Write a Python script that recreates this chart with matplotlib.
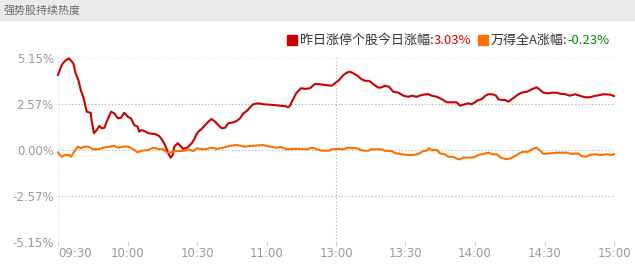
import matplotlib
matplotlib.use("Agg")
import matplotlib.pyplot as plt
from matplotlib.patches import Rectangle

plt.rcParams['font.family'] = ['Noto Sans CJK SC', 'DejaVu Sans']

# trading minutes since 09:30 (11:30 and 13:00 merge at 120)
red_t = [0, 1.6, 3.0, 4.7, 6.6, 7.6, 8.8, 9.9, 10.9, 11.7, 12.4, 14.1, 14.5, 15.5, 16.7,
         17.8, 18.9, 20.0, 21.0, 22.9, 24.3, 25.8, 27.2, 28.6, 30.1, 31.5, 32.9, 34.4, 35.0,
         36.1, 37.9, 39.0, 41.9, 43.6, 44.8, 46.2, 47.6, 48.6, 49.5, 50.2, 51.7, 53.1, 54.1,
         56.0, 57.7, 58.8, 59.6, 60.6, 62.0, 63.5, 64.9, 66.3, 67.8, 69.2, 70.7, 72.1, 73.5,
         75.7, 77.1, 78.6, 80.0, 81.5, 82.9, 84.3, 86.5, 88.6, 92.9, 95.8, 98.0, 99.2, 100.1,
         101.3, 103.0, 104.9, 106.6, 108.8, 110.9, 113.1, 115.2, 118.1, 119.6, 121.3, 123.2,
         124.6, 126.0, 127.5, 129.2, 131.1, 132.5, 134.4, 136.1, 138.3, 139.7, 141.1, 142.9,
         144.7, 146.9, 149.1, 151.2, 152.9, 154.8, 157.0, 159.8, 161.3, 163.5, 165.6, 167.8,
         169.9, 172.1, 173.5, 175.7, 177.1, 178.6, 180.0, 181.4, 182.9, 184.3, 185.7, 187.6,
         189.1, 190.1, 191.5, 193.0, 194.4, 195.8, 197.3, 198.7, 200.2, 202.3, 204.5, 206.6,
         208.1, 209.5, 211.6, 213.1, 215.3, 216.7, 218.8, 221.0, 223.2, 225.3, 227.5, 229.6,
         231.4, 233.2, 235.4, 238.3, 240]
red_v = [4.21, 4.77, 5.00, 5.15, 4.87, 4.31, 3.93, 3.33, 2.99, 2.53, 2.15, 2.09, 1.68, 0.94, 1.12,
         1.35, 1.22, 1.25, 1.59, 2.15, 2.06, 1.78, 1.81, 2.09, 1.87, 1.78, 1.40, 1.31, 1.03,
         1.12, 1.03, 0.94, 0.90, 0.79, 0.60, 0.28, -0.19, -0.43, -0.28, 0.19, 0.38, 0.19, 0.06,
         0.15, 0.38, 0.60, 0.84, 1.03, 1.18, 1.40, 1.59, 1.74, 1.59, 1.40, 1.22, 1.25, 1.50,
         1.56, 1.63, 1.78, 2.06, 2.19, 2.40, 2.57, 2.62, 2.57, 2.53, 2.49, 2.47, 2.40, 2.47,
         2.81, 3.22, 3.47, 3.43, 3.47, 3.71, 3.69, 3.65, 3.61, 3.75, 3.93, 4.21,
         4.34, 4.40, 4.31, 4.17, 3.97, 3.89, 3.88, 3.69, 3.50, 3.52, 3.61, 3.55,
         3.27, 3.22, 3.05, 2.99, 3.05, 2.99, 3.09, 3.14, 3.05, 2.99, 2.86, 2.68,
         2.68, 2.68, 2.49, 2.57, 2.62, 2.57, 2.68, 2.81, 2.85, 3.03, 3.13, 3.13,
         3.05, 2.85, 2.81, 2.81, 2.71, 2.85, 2.99, 3.13, 3.22, 3.27, 3.41, 3.52,
         3.37, 3.22, 3.18, 3.22, 3.22, 3.16, 3.14, 3.05, 3.13, 3.05, 2.96, 2.96,
         3.03, 3.07, 3.13, 3.11, 3.03]

orange_t = [0, 1.6, 3.0, 4.7, 5.6, 7.0, 8.5, 9.9, 11.4, 13.1, 15.2, 17.4, 20.3, 22.4, 23.9,
            26.0, 28.2, 30.3, 32.5, 34.4, 36.1, 39.0, 41.1, 43.3, 45.5, 46.9, 48.3, 50.5,
            52.7, 54.8, 56.2, 58.4, 59.9, 62.0, 64.2, 66.3, 68.5, 71.4, 74.2, 77.1, 80.7,
            84.3, 88.6, 91.5, 94.4, 96.1, 98.7, 101.6, 104.5, 107.4, 109.9, 111.7, 113.8,
            117.1, 118.1, 121.0, 123.2, 125.3, 128.9, 131.8, 133.9, 135.4, 139.7, 141.1,
            144.0, 145.8, 148.4, 151.2, 153.4, 155.5, 157.7, 159.1, 160.1, 161.3, 163.5,
            164.9, 167.0, 168.5, 170.6, 172.4, 173.5, 175.0, 177.1, 179.7, 181.4, 183.6,
            185.7, 187.6, 189.4, 191.1, 193.4, 195.4, 197.3, 199.1, 200.8, 203.0, 204.5,
            206.6, 208.1, 209.5, 212.4, 215.3, 219.6, 221.7, 224.6, 226.1, 227.9, 229.4,
            231.8, 234.7, 236.8, 239.0, 240]
orange_v = [-0.15, -0.38, -0.28, -0.28, -0.38, -0.10, 0.19, 0.10, 0.19, 0.19, 0.04, 0.04, 0.15, 0.19, 0.24,
            0.13, 0.19, 0.19, 0.04, -0.13, -0.04, 0.00, 0.13, 0.06, 0.04, -0.13, -0.15, -0.06,
            -0.06, -0.04, 0.04, -0.06, 0.10, 0.04, 0.06, 0.13, 0.06, 0.13, 0.24, 0.28, 0.19,
            0.24, 0.28, 0.19, 0.13, 0.17, 0.04, 0.06, 0.06, 0.04, 0.13, 0.04, -0.04,
            -0.04, 0.04, 0.06, 0.04, 0.13, 0.10, -0.04, -0.04, 0.04, 0.04, -0.04,
            -0.06, -0.19, -0.24, -0.28, -0.28, -0.22, -0.06, -0.04, 0.10, 0.00, 0.00,
            -0.19, -0.24, -0.38, -0.38, -0.51, -0.52, -0.41, -0.43, -0.41, -0.28, -0.22,
            -0.15, -0.24, -0.24, -0.43, -0.51, -0.47, -0.34, -0.19, -0.10, -0.10, 0.04,
            0.13, -0.04, -0.22, -0.19, -0.15, -0.15, -0.22, -0.19, -0.34, -0.38, -0.28,
            -0.24, -0.28, -0.24, -0.28, -0.23]

x_ticks = [0, 30, 60, 90, 120, 150, 180, 210, 240]
x_labels = ["09:30", "10:00", "10:30", "11:00", "13:00", "13:30", "14:00", "14:30", "15:00"]
y_ticks = [5.15, 2.57, 0.0, -2.57, -5.15]
y_labels = ["5.15%", "2.57%", "0.00%", "-2.57%", "-5.15%"]

W, H = 635, 267
fig = plt.figure(figsize=(W / 100, H / 100), dpi=100)

# title band
fig.patches.append(Rectangle((0, 1 - 20 / H), 1, 20 / H, transform=fig.transFigure,
                             color="#ebebeb", zorder=0))
fig.text(3 / W, 1 - 10.5 / H, "强势股持续热度", fontsize=7.9, color="#666666", va="center")

ax = fig.add_axes([58 / W, 1 - 241.7 / H, 556 / W, (241.7 - 58.3) / H])
ax.plot(red_t, red_v, color="#cc0000", lw=1.5, clip_on=False, zorder=3)
ax.plot(orange_t, orange_v, color="#ff7000", lw=1.5, clip_on=False, zorder=3)
ax.set_xlim(0, 240)
ax.set_ylim(-5.15, 5.15)
for s in ax.spines.values():
    s.set_visible(False)

dots = (0, (1, 2))
for y in [2.57, 0, -2.57]:
    ax.axhline(y, color="#aaaaaa", lw=0.8, ls=dots, zorder=1)
for y in [5.15, -5.15]:
    ax.axhline(y, color="#dddddd", lw=0.8, ls=dots, zorder=1)
ax.axvline(0, color="#dddddd", lw=0.8, ls=dots, zorder=1)
ax.axvline(240, color="#dddddd", lw=0.8, ls=dots, zorder=1)
ax.axvline(120, color="#aaaaaa", lw=0.8, ls=dots, zorder=1)

ax.set_yticks(y_ticks)
ax.set_yticklabels(y_labels, family="DejaVu Sans")
ax.set_xticks(x_ticks)
ax.set_xticklabels(x_labels, family="DejaVu Sans")
ax.tick_params(axis="y", length=0, pad=3, labelsize=8.5, labelcolor="#9a9a9a")
ax.tick_params(axis="x", length=3, width=0.8, color="#cccccc", pad=1, labelsize=8.5,
               labelcolor="#9a9a9a")
ax.get_xticklabels()[0].set_ha("left")


def legend_item(x_px, color, label, value, value_color):
    fig.patches.append(Rectangle((x_px / W, 1 - 45 / H), 10 / W, 10 / H,
                                 transform=fig.transFigure, color=color))
    t = fig.text((x_px + 13) / W, 1 - 40.5 / H, label, fontsize=9.4, color="#333333",
                 va="center")
    ax.annotate(value, xy=(1, 0.5), xycoords=t, va="center", fontsize=9.4,
                color=value_color, annotation_clip=False)


legend_item(287, "#cc0000", "昨日涨停个股今日涨幅:", "3.03%", "#dd0000")
legend_item(478, "#ff7000", "万得全A涨幅:", "-0.23%", "#008800")

fig.savefig("out.png", dpi=100)
